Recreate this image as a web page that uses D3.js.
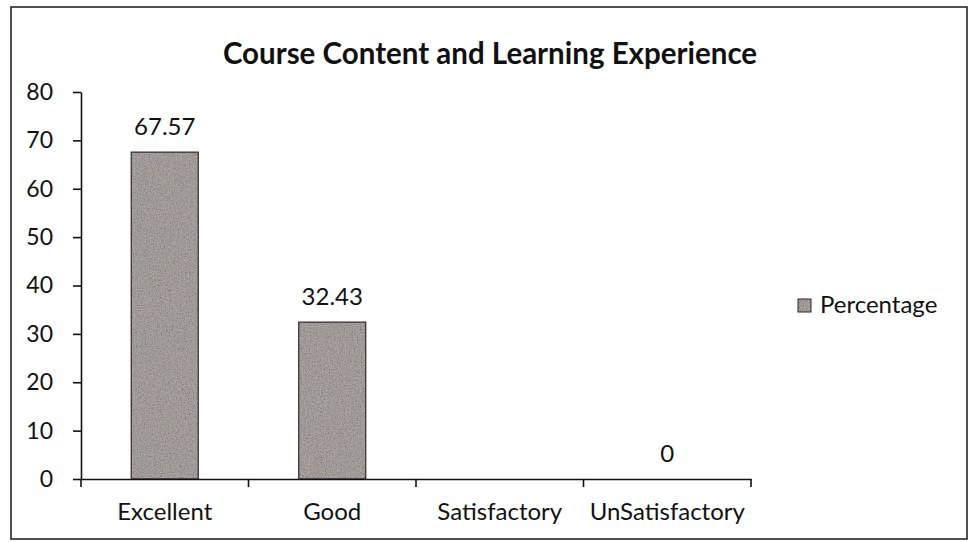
<!DOCTYPE html>
<html>
<head>
<meta charset="utf-8">
<script src="https://cdn.jsdelivr.net/npm/d3@7/dist/d3.min.js"></script>
<style>
  html, body { margin: 0; padding: 0; background: #fff; }
  svg { display: block; }
  text { font-family: Lato, "Open Sans", sans-serif; fill: #111; }
</style>
</head>
<body>
<svg id="chart" width="970" height="542"></svg>
<script>
// Chart data
const categories = ["Excellent", "Good", "Satisfactory", "UnSatisfactory"];
const percentage = [67.57, 32.43, null, 0];
const valueLabels = ["67.57", "32.43", "", "0"];
const yTicks = [0, 10, 20, 30, 40, 50, 60, 70, 80];
const seriesName = "Percentage";
const chartTitle = "Course Content and Learning Experience";

const svg = d3.select("#chart");
const W = 970, H = 542;
const plot = { left: 81, right: 751, top: 92, bottom: 479 };
const labelSize = "24px";

// Grainy grey fill for the bars
const defs = svg.append("defs");
const grain = defs.append("filter").attr("id", "grain")
  .attr("x", 0).attr("y", 0).attr("width", 1).attr("height", 1);
grain.append("feTurbulence").attr("type", "fractalNoise")
  .attr("baseFrequency", 0.75).attr("numOctaves", 2).attr("seed", 7).attr("result", "n");
grain.append("feColorMatrix").attr("in", "n").attr("type", "saturate").attr("values", 0.4).attr("result", "s");
grain.append("feColorMatrix").attr("in", "s").attr("type", "matrix")
  .attr("values", "1.6 0 0 0 -0.3  0 1.6 0 0 -0.3  0 0 1.6 0 -0.3  0 0 0 0 1");
const pat = defs.append("pattern").attr("id", "barFill")
  .attr("patternUnits", "userSpaceOnUse").attr("width", W).attr("height", H);
pat.append("rect").attr("width", W).attr("height", H).attr("fill", "#8b827c");
pat.append("rect").attr("width", W).attr("height", H)
  .attr("filter", "url(#grain)").attr("opacity", 0.42);

// Outer frame
svg.append("rect")
  .attr("x", 11).attr("y", 7).attr("width", 956).attr("height", 532)
  .attr("fill", "none").attr("stroke", "#2a2626").attr("stroke-width", 1.6);

// Title
svg.append("text")
  .attr("x", 490).attr("y", 64)
  .attr("text-anchor", "middle")
  .style("font-weight", "bold").style("font-size", "29.5px")
  .text(chartTitle);

// Scales
const x = d3.scaleBand()
  .domain(categories)
  .range([plot.left, plot.right])
  .paddingInner(0.6)
  .paddingOuter(0.3);
const y = d3.scaleLinear().domain([0, 80]).range([plot.bottom, plot.top]);

// Bars
const data = categories.map((c, i) => ({ c, v: percentage[i], label: valueLabels[i] }));
svg.append("g").selectAll("rect")
  .data(data.filter(d => d.v !== null && d.v > 0))
  .join("rect")
  .attr("x", d => x(d.c))
  .attr("y", d => y(d.v))
  .attr("width", x.bandwidth())
  .attr("height", d => y(0) - y(d.v))
  .attr("fill", "url(#barFill)")
  .attr("stroke", "#2e2626")
  .attr("stroke-width", 1.2);

// Value labels
svg.append("g").selectAll("text")
  .data(data.filter(d => d.v !== null))
  .join("text")
  .attr("x", d => x(d.c) + x.bandwidth() / 2)
  .attr("y", d => y(d.v) - 17)
  .attr("text-anchor", "middle")
  .style("font-size", labelSize)
  .text(d => d.label);

// Y axis
const yAxis = svg.append("g")
  .attr("transform", `translate(${plot.left},0)`)
  .call(d3.axisLeft(y).tickValues(yTicks).tickSize(8).tickPadding(20).tickSizeOuter(0));
yAxis.select(".domain").attr("stroke", "#111").attr("stroke-width", 1.6);
yAxis.selectAll(".tick line").attr("stroke", "#111").attr("stroke-width", 1.6);
yAxis.selectAll(".tick text").style("font-size", "23px").style("font-family", "Lato, sans-serif").attr("fill", "#111");

// X axis: labels centred on bands, tick marks on band boundaries
const xAxis = svg.append("g")
  .attr("transform", `translate(0,${plot.bottom})`)
  .call(d3.axisBottom(x).tickSize(0).tickPadding(24).tickSizeOuter(0));
xAxis.select(".domain").attr("stroke", "#111").attr("stroke-width", 1.6);
xAxis.selectAll(".tick text").style("font-size", labelSize).style("font-family", "Lato, sans-serif").attr("fill", "#111");
const boundaries = d3.range(categories.length + 1).map(i => plot.left + i * x.step());
xAxis.selectAll(".bound").data(boundaries).join("line")
  .attr("class", "bound")
  .attr("x1", d => d).attr("x2", d => d)
  .attr("y1", 0).attr("y2", 8)
  .attr("stroke", "#111").attr("stroke-width", 1.6);

// Legend
const legend = svg.append("g").attr("transform", "translate(798,299)");
legend.append("rect").attr("width", 13).attr("height", 13)
  .attr("fill", "url(#barFill)").attr("stroke", "#2e2626").attr("stroke-width", 1);
legend.append("text").attr("x", 22).attr("y", 14)
  .style("font-size", labelSize).text(seriesName);
</script>
</body>
</html>
